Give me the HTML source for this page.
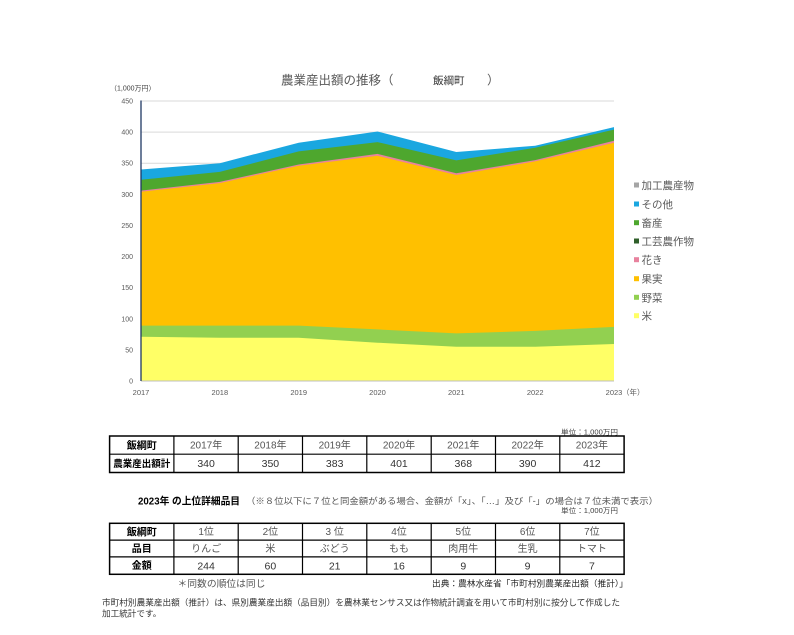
<!DOCTYPE html>
<html><head><meta charset="utf-8"><style>
html,body{margin:0;padding:0;background:#fff;}
svg{display:block;}
text{font-family:"Liberation Sans","Noto Sans CJK JP",sans-serif;}
</style></head><body>
<svg width="794" height="635" viewBox="0 0 794 635" xmlns="http://www.w3.org/2000/svg">
<rect width="794" height="635" fill="#fff"/>
<!-- title -->
<text x="281" y="84.5" font-size="12.5" fill="#595959">農業産出額の推移（</text>
<text x="433" y="84" font-size="10.5" fill="#333">飯綱町</text>
<text x="487" y="84.5" font-size="12.5" fill="#595959">）</text>
<text x="110" y="90.5" font-size="7" fill="#404040">（1,000万円）</text>
<!-- gridlines -->
<g stroke="#D9D9D9" stroke-width="1">
<line x1="141" y1="101" x2="614" y2="101"/>
<line x1="141" y1="132.1" x2="614" y2="132.1"/>
<line x1="141" y1="163.2" x2="614" y2="163.2"/>
<line x1="141" y1="194.3" x2="614" y2="194.3"/>
<line x1="141" y1="225.4" x2="614" y2="225.4"/>
<line x1="141" y1="256.6" x2="614" y2="256.6"/>
<line x1="141" y1="287.7" x2="614" y2="287.7"/>
<line x1="141" y1="318.8" x2="614" y2="318.8"/>
<line x1="141" y1="349.9" x2="614" y2="349.9"/>
</g>
<!-- areas -->
<polygon fill="#1AA7E0" points="141,169.5 219.8,163.2 298.7,142.7 377.5,131.5 456.3,152.0 535.2,145.8 614,127.1 614,381 141,381"/>
<polygon fill="#4EA72E" points="141,179.7 219.8,171.9 298.7,151.4 377.5,142.1 456.3,160.4 535.2,147.7 614,129.6 614,381 141,381"/>
<polygon fill="#E8829E" points="141,190.6 219.8,181.9 298.7,164.5 377.5,153.9 456.3,173.2 535.2,160.1 614,140.8 614,381 141,381"/>
<polygon fill="#FFC000" points="141,191.8 219.8,183.1 298.7,165.7 377.5,155.8 456.3,175.0 535.2,161.4 614,142.7 614,381 141,381"/>
<polygon fill="#92D050" points="141,325.6 219.8,325.6 298.7,325.6 377.5,329.4 456.3,333.4 535.2,330.9 614,326.9 614,381 141,381"/>
<polygon fill="#FFFF66" points="141,336.8 219.8,337.8 298.7,337.8 377.5,342.7 456.3,346.8 535.2,346.8 614,344.0 614,381 141,381"/>
<!-- axes -->
<line x1="141" y1="381" x2="614" y2="381" stroke="#BFBFBF" stroke-width="1"/>
<line x1="141" y1="100.5" x2="141" y2="381" stroke="#1F3864" stroke-width="1.3"/>
<!-- y labels -->
<g font-size="7" fill="#595959" text-anchor="end">
<text x="133" y="103.5">450</text>
<text x="133" y="134.6">400</text>
<text x="133" y="165.7">350</text>
<text x="133" y="196.8">300</text>
<text x="133" y="227.9">250</text>
<text x="133" y="259.1">200</text>
<text x="133" y="290.2">150</text>
<text x="133" y="321.3">100</text>
<text x="133" y="352.4">50</text>
<text x="133" y="383.5">0</text>
</g>
<!-- x labels -->
<g font-size="7.5" fill="#595959" text-anchor="middle">
<text x="141" y="395">2017</text>
<text x="219.8" y="395">2018</text>
<text x="298.7" y="395">2019</text>
<text x="377.5" y="395">2020</text>
<text x="456.3" y="395">2021</text>
<text x="535.2" y="395">2022</text>
<text x="614" y="395">2023</text>
</g>
<text x="622" y="395" font-size="7.5" fill="#595959">（年）</text>
<!-- legend -->
<g font-size="10.5" fill="#595959">
<rect x="634" y="182.5" width="5" height="5" fill="#A5A5A5"/><text x="641.5" y="189">加工農産物</text>
<rect x="634" y="201.5" width="5" height="5" fill="#1AA7E0"/><text x="641.5" y="208">その他</text>
<rect x="634" y="220.2" width="5" height="5" fill="#4EA72E"/><text x="641.5" y="226.7">畜産</text>
<rect x="634" y="238.5" width="5" height="5" fill="#2F5F2A"/><text x="641.5" y="245">工芸農作物</text>
<rect x="634" y="257.2" width="5" height="5" fill="#E8829E"/><text x="641.5" y="263.7">花き</text>
<rect x="634" y="276.2" width="5" height="5" fill="#FFC000"/><text x="641.5" y="282.7">果実</text>
<rect x="634" y="294.8" width="5" height="5" fill="#92D050"/><text x="641.5" y="301.3">野菜</text>
<rect x="634" y="313.2" width="5" height="5" fill="#FFFF66"/><text x="641.5" y="319.7">米</text>
</g>
<!-- table 1 -->
<text x="561" y="434.5" font-size="7" fill="#404040" textLength="57" lengthAdjust="spacingAndGlyphs">単位：1,000万円</text>
<g stroke="#000" stroke-width="1.2" fill="none">
<rect x="109.6" y="436" width="514.5" height="36.5" stroke-width="1.5"/>
<line x1="109.6" y1="454.2" x2="624.1" y2="454.2"/>
<line x1="173.9" y1="436" x2="173.9" y2="472.5"/>
<line x1="238.2" y1="436" x2="238.2" y2="472.5"/>
<line x1="302.5" y1="436" x2="302.5" y2="472.5"/>
<line x1="366.8" y1="436" x2="366.8" y2="472.5"/>
<line x1="431.2" y1="436" x2="431.2" y2="472.5"/>
<line x1="495.5" y1="436" x2="495.5" y2="472.5"/>
<line x1="559.8" y1="436" x2="559.8" y2="472.5"/>
</g>
<g text-anchor="middle">
<text x="141.8" y="448.8" font-size="10" font-weight="bold" fill="#000">飯綱町</text>
<text x="141.8" y="466.8" font-size="9.5" font-weight="bold" fill="#000">農業産出額計</text>
<g font-size="10" fill="#555">
<text x="206.1" y="448.6">2017年</text>
<text x="270.4" y="448.6">2018年</text>
<text x="334.7" y="448.6">2019年</text>
<text x="399.0" y="448.6">2020年</text>
<text x="463.3" y="448.6">2021年</text>
<text x="527.6" y="448.6">2022年</text>
<text x="591.9" y="448.6">2023年</text>
</g>
<g font-size="10.5" fill="#333">
<text x="206.1" y="467">340</text>
<text x="270.4" y="467">350</text>
<text x="334.7" y="467">383</text>
<text x="399.0" y="467">401</text>
<text x="463.3" y="467">368</text>
<text x="527.6" y="467">390</text>
<text x="591.9" y="467">412</text>
</g>
</g>
<!-- section title -->
<text x="138" y="504.5" font-size="10" font-weight="bold" fill="#000" textLength="102" lengthAdjust="spacingAndGlyphs">2023年 の上位詳細品目</text>
<text x="246" y="504" font-size="8.8" fill="#555" textLength="412" lengthAdjust="spacingAndGlyphs">（※８位以下に７位と同金額がある場合、金額が「x」、「…」及び「-」の場合は７位未満で表示）</text>
<text x="561" y="513" font-size="7" fill="#404040" textLength="57" lengthAdjust="spacingAndGlyphs">単位：1,000万円</text>
<!-- table 2 -->
<g stroke="#000" stroke-width="1.2" fill="none">
<rect x="109.6" y="523.3" width="514.5" height="51" stroke-width="1.5"/>
<line x1="109.6" y1="540.1" x2="624.1" y2="540.1"/>
<line x1="109.6" y1="556.9" x2="624.1" y2="556.9"/>
<line x1="173.9" y1="523.3" x2="173.9" y2="574.3"/>
<line x1="238.2" y1="523.3" x2="238.2" y2="574.3"/>
<line x1="302.5" y1="523.3" x2="302.5" y2="574.3"/>
<line x1="366.8" y1="523.3" x2="366.8" y2="574.3"/>
<line x1="431.2" y1="523.3" x2="431.2" y2="574.3"/>
<line x1="495.5" y1="523.3" x2="495.5" y2="574.3"/>
<line x1="559.8" y1="523.3" x2="559.8" y2="574.3"/>
</g>
<g text-anchor="middle">
<g font-size="10" font-weight="bold" fill="#000">
<text x="141.8" y="535.3">飯綱町</text>
<text x="141.8" y="552">品目</text>
<text x="141.8" y="569.1">金額</text>
</g>
<g font-size="10" fill="#555">
<text x="206.1" y="535.2">1位</text>
<text x="270.4" y="535.2">2位</text>
<text x="334.7" y="535.2">3 位</text>
<text x="399.0" y="535.2">4位</text>
<text x="463.3" y="535.2">5位</text>
<text x="527.6" y="535.2">6位</text>
<text x="591.9" y="535.2">7位</text>
<text x="206.1" y="552">りんご</text>
<text x="270.4" y="552">米</text>
<text x="334.7" y="552">ぶどう</text>
<text x="399.0" y="552">もも</text>
<text x="463.3" y="552">肉用牛</text>
<text x="527.6" y="552">生乳</text>
<text x="591.9" y="552">トマト</text>
</g>
<g font-size="10.5" fill="#333">
<text x="206.1" y="569.3">244</text>
<text x="270.4" y="569.3">60</text>
<text x="334.7" y="569.3">21</text>
<text x="399.0" y="569.3">16</text>
<text x="463.3" y="569.3">9</text>
<text x="527.6" y="569.3">9</text>
<text x="591.9" y="569.3">7</text>
</g>
</g>
<text x="177.5" y="586.8" font-size="9.5" fill="#555" textLength="88" lengthAdjust="spacingAndGlyphs">＊同数の順位は同じ</text>
<text x="432" y="586.5" font-size="8.5" fill="#222" textLength="196" lengthAdjust="spacingAndGlyphs">出典：農林水産省「市町村別農業産出額（推計）」</text>
<text x="102" y="605.3" font-size="8.6" fill="#333" textLength="518" lengthAdjust="spacingAndGlyphs">市町村別農業産出額（推計）は、県別農業産出額（品目別）を農林業センサス又は作物統計調査を用いて市町村別に按分して作成した</text>
<text x="102" y="616.3" font-size="8.6" fill="#333">加工統計です。</text>
</svg>
</body></html>
